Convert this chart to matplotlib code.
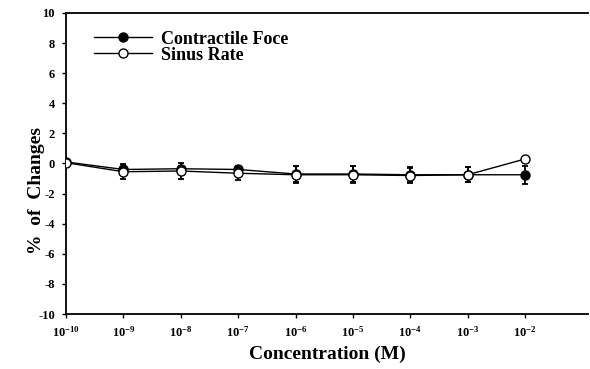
import numpy as np
import matplotlib
matplotlib.use("Agg")
import matplotlib.pyplot as plt
from matplotlib.lines import Line2D

plt.rcParams['font.family'] = 'Liberation Serif'
plt.rcParams['font.weight'] = 'bold'
plt.rcParams['mathtext.fontset'] = 'custom'
plt.rcParams['mathtext.rm'] = 'Liberation Serif:bold'
plt.rcParams['mathtext.it'] = 'Liberation Serif:bold'
plt.rcParams['mathtext.bf'] = 'Liberation Serif:bold'

# log10 of concentration (M)
log_conc = [-10, -9, -8, -7, -6, -5, -4, -3, -2]
force = [0.1, -0.4, -0.35, -0.4, -0.7, -0.7, -0.75, -0.75, -0.75]
force_err = [0.1, 0.15, 0.15, 0.15, 0.55, 0.5, 0.5, 0.5, 0.6]
sinus = [0.05, -0.55, -0.5, -0.65, -0.75, -0.75, -0.8, -0.75, 0.3]
sinus_err = [0.1, 0.5, 0.5, 0.45, 0.55, 0.55, 0.5, 0.5, 0.0]
yticks = [-10, -8, -6, -4, -2, 0, 2, 4, 6, 8, 10]

fig = plt.figure(figsize=(5.9, 3.69), dpi=100)
ax = fig.add_axes([0.112, 0.149, 0.885, 0.816])

ax.errorbar(log_conc, force, yerr=force_err, color='black', lw=1.0,
            marker='o', ms=6.5, mfc='black', mec='black', capsize=2.5,
            elinewidth=1.3, capthick=1.3, zorder=3)
ax.errorbar(log_conc, sinus, yerr=sinus_err, color='black', lw=1.0,
            marker='o', ms=6.5, mfc='white', mec='black', capsize=2.5,
            elinewidth=1.3, capthick=1.3, zorder=4)

ax.set_xlim(-10, -0.9)
ax.set_ylim(-10, 10)
ax.set_yticks(yticks)
ax.set_yticklabels([str(v) for v in yticks], fontsize=9)
ax.set_xticks(log_conc)
ax.set_xticklabels([r'$10^{%d}$' % v for v in log_conc], fontsize=9)
ax.spines['right'].set_visible(False)
for s in ['left', 'bottom', 'top']:
    ax.spines[s].set_linewidth(1.3)
ax.tick_params(direction='out', length=3, width=1, pad=5)

ax.set_ylabel('%  of  Changes', fontsize=14, fontweight='bold')
ax.yaxis.set_label_coords(-0.04, 0.41)
ax.set_xlabel('Concentration (M)', fontsize=14, fontweight='bold', labelpad=4)

handles = [
    Line2D([], [], color='black', lw=1.0, marker='o', ms=6.5, mfc='black', mec='black'),
    Line2D([], [], color='black', lw=1.0, marker='o', ms=6.5, mfc='white', mec='black'),
]
ax.legend(handles, ['Contractile Foce', 'Sinus Rate'], loc='upper left',
          frameon=False, fontsize=13, bbox_to_anchor=(0.04, 0.965),
          handlelength=3.2, handletextpad=0.5, labelspacing=-0.05,
          borderaxespad=0)

fig.savefig('out.png', dpi=100)
